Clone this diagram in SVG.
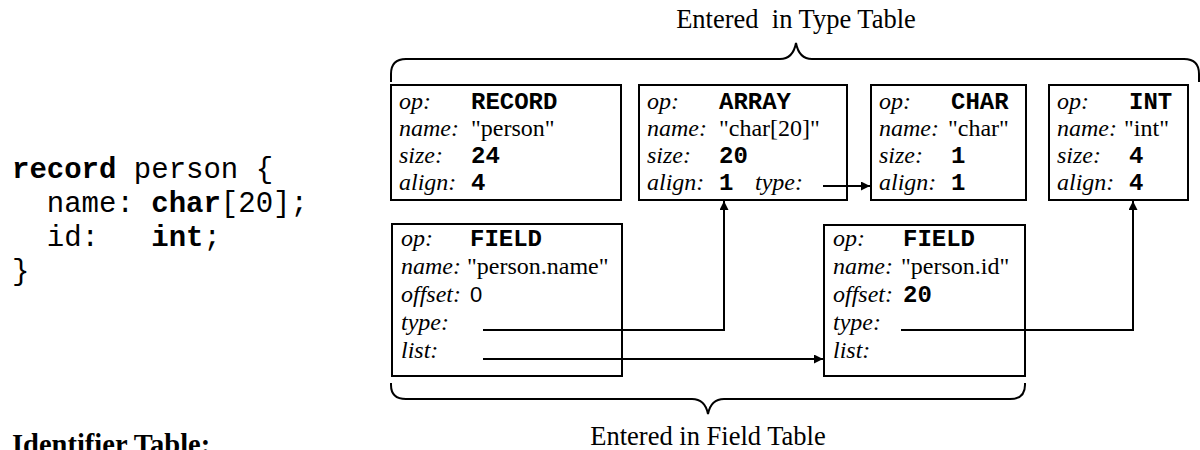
<svg xmlns="http://www.w3.org/2000/svg" width="1200" height="450" viewBox="0 0 1200 450">
<style>
.box{fill:#fff;stroke:#000;stroke-width:2}
.lbl{font-family:"Liberation Serif",serif;font-style:italic;font-size:24px;fill:#000}
.str{font-family:"Liberation Serif",serif;font-size:24px;fill:#000}
.val{font-family:"Liberation Mono",monospace;font-weight:bold;font-size:24px;fill:#000}
.code{font-family:"Liberation Mono",monospace;font-size:29px;fill:#000}
.b{font-weight:bold}
.title{font-family:"Liberation Serif",serif;font-size:26.5px;fill:#000}
.brace{fill:none;stroke:#000;stroke-width:2}
.conn{fill:none;stroke:#000;stroke-width:2}
</style>
<defs>
<marker id="ah" viewBox="0 0 10 10" refX="10" refY="5" markerWidth="11" markerHeight="9" markerUnits="userSpaceOnUse" orient="auto">
<path d="M0,0 L10,5 L0,10 z" fill="#000"/>
</marker>
</defs>

<g id="code">
<text class="code" x="12" y="178" xml:space="preserve"><tspan class="b">record</tspan> person {</text>
<text class="code" x="12" y="212" xml:space="preserve">  name: <tspan class="b">char</tspan>[20];</text>
<text class="code" x="12" y="246" xml:space="preserve">  id:   <tspan class="b">int</tspan>;</text>
<text class="code" x="12" y="280">}</text>
</g>

<g id="identifier-title">
<text x="12" y="454" font-family="Liberation Serif, serif" font-weight="bold" font-size="28.5">Identifier Table:</text>
</g>

<g id="type-table-label">
<path class="brace" d="M391,82 L391,74 Q391,59 406,59 L780,59 Q793,59 796,43 Q799,59 812,59 L1184,59 Q1199,59 1199,74 L1199,82"/>
<text class="title" x="796" y="28" text-anchor="middle" xml:space="preserve">Entered  in Type Table</text>
</g>

<g id="field-table-label">
<path class="brace" d="M391,383 L391,385 Q391,399 406,399 L692,399 Q705,399 708,414 Q711,399 724,399 L1010,399 Q1025,399 1025,385 L1025,383"/>
<text class="title" x="708" y="445" text-anchor="middle">Entered in Field Table</text>
</g>

<g id="record">
<rect class="box" x="391" y="85" width="230" height="115"/>
<text class="lbl" x="399" y="109">op:</text><text class="val" x="471" y="109">RECORD</text>
<text class="lbl" x="399" y="136">name:</text><text class="str" x="471" y="136">"person"</text>
<text class="lbl" x="399" y="163">size:</text><text class="val" x="471" y="163">24</text>
<text class="lbl" x="399" y="190">align:</text><text class="val" x="471" y="190">4</text>
</g>

<g id="array">
<rect class="box" x="639" y="85" width="208" height="115"/>
<text class="lbl" x="647" y="109">op:</text><text class="val" x="719" y="109">ARRAY</text>
<text class="lbl" x="647" y="136">name:</text><text class="str" x="719" y="136">"char[20]"</text>
<text class="lbl" x="647" y="163">size:</text><text class="val" x="719" y="163">20</text>
<text class="lbl" x="647" y="190">align:</text><text class="val" x="719" y="190">1</text>
<text class="lbl" x="755" y="190">type:</text>
</g>

<g id="char">
<rect class="box" x="871" y="85" width="155" height="115"/>
<text class="lbl" x="879" y="109">op:</text><text class="val" x="951" y="109">CHAR</text>
<text class="lbl" x="879" y="136">name:</text><text class="str" x="948" y="136">"char"</text>
<text class="lbl" x="879" y="163">size:</text><text class="val" x="951" y="163">1</text>
<text class="lbl" x="879" y="190">align:</text><text class="val" x="951" y="190">1</text>
</g>

<g id="int">
<rect class="box" x="1049" y="85" width="139" height="115"/>
<text class="lbl" x="1057" y="109">op:</text><text class="val" x="1129" y="109">INT</text>
<text class="lbl" x="1057" y="136">name:</text><text class="str" x="1124" y="136">"int"</text>
<text class="lbl" x="1057" y="163">size:</text><text class="val" x="1129" y="163">4</text>
<text class="lbl" x="1057" y="190">align:</text><text class="val" x="1129" y="190">4</text>
</g>

<g id="field-name">
<rect class="box" x="392" y="224" width="230" height="152"/>
<text class="lbl" x="401" y="246">op:</text><text class="val" x="470" y="246">FIELD</text>
<text class="lbl" x="401" y="274">name:</text><text class="str" x="467" y="274">"person.name"</text>
<text class="lbl" x="401" y="302">offset:</text><text x="470" y="302" font-family="Liberation Sans, sans-serif" font-size="22">0</text>
<text class="lbl" x="401" y="330">type:</text>
<text class="lbl" x="401" y="358">list:</text>
</g>

<g id="field-id">
<rect class="box" x="824" y="225" width="201" height="151"/>
<text class="lbl" x="833" y="246">op:</text><text class="val" x="903" y="246">FIELD</text>
<text class="lbl" x="833" y="274">name:</text><text class="str" x="901" y="274">"person.id"</text>
<text class="lbl" x="833" y="302">offset:</text><text class="val" x="903" y="302">20</text>
<text class="lbl" x="833" y="330">type:</text>
<text class="lbl" x="833" y="358">list:</text>
</g>

<g id="connectors">
<path class="conn" d="M823,186 L870,186" marker-end="url(#ah)"/>
<path class="conn" d="M483,330 L724,330 L724,201" marker-end="url(#ah)"/>
<path class="conn" d="M483,359 L823,359" marker-end="url(#ah)"/>
<path class="conn" d="M901,330 L1133,330 L1133,201" marker-end="url(#ah)"/>
</g>
</svg>
